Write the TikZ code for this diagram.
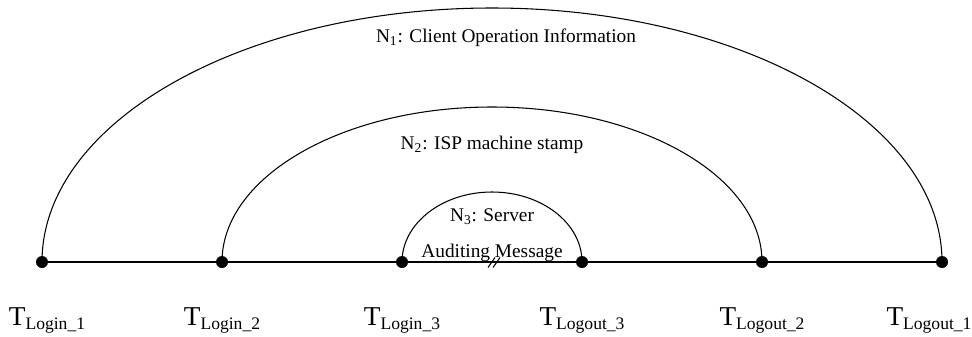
\documentclass[tikz,border=0pt]{standalone}
\usepackage{fontspec}
\setmainfont{Liberation Serif}
\usetikzlibrary{positioning,calc}

\tikzset{
    pt/.style={circle,fill=black,inner sep=0pt,minimum size=0.24cm},
    tlab/.style={inner sep=0pt,anchor=north},
    arclab/.style={inner sep=0pt,font=\fontsize{11}{13}\selectfont},
    span/.style={line width=0.6pt},
    axis line/.style={line width=1.1pt}
}
\newcommand{\tname}[1]{{\fontsize{15.5}{18}\selectfont T}\raisebox{-0.5ex}{\fontsize{10}{12}\selectfont #1}}

\begin{document}
\begin{tikzpicture}
    \useasboundingbox (0,0) rectangle (19.44,6.72);

    % Time points on the line
    \node[pt] (l1) at (0.84,1.48) {};
    \node[pt] (l2) at (4.44,1.48) {};
    \node[pt] (l3) at (8.04,1.48) {};
    \node[pt] (o3) at (11.64,1.48) {};
    \node[pt] (o2) at (15.24,1.48) {};
    \node[pt] (o1) at (18.84,1.48) {};

    % Time line with break mark
    \draw[axis line] (l1.center) -- (o1.center);
    \coordinate (brk) at ($(l3)!0.5!(o3)$);
    \draw[span] ($(brk)+(-0.08,-0.11)$) -- ($(brk)+(0.06,0.09)$);
    \draw[span] ($(brk)+(0.02,-0.11)$) -- ($(brk)+(0.16,0.09)$);

    % Nested intervals
    \draw[span] (l1.center) arc[start angle=180,end angle=0,x radius=9cm,y radius=5.08cm];
    \draw[span] (l2.center) arc[start angle=180,end angle=0,x radius=5.4cm,y radius=3.1cm];
    \draw[span] (l3.center) arc[start angle=180,end angle=0,x radius=1.8cm,y radius=1.4cm];

    % Interval labels
    \node[arclab] (n1) at (10.12,5.96) {N\textsubscript{1}: Client Operation Information};
    \node[arclab] (n2) at (9.84,3.82) {N\textsubscript{2}: ISP machine stamp};
    \node[arclab] (n3) at (9.84,2.38) {N\textsubscript{3}: Server};
    \node[arclab,anchor=base] (n3b) at (9.84,1.58) {Auditing Message};

    % Time labels
    \node[tlab,below=0.78cm of l1,xshift=0.1cm] (tl1) {\tname{Login\_1}};
    \node[tlab,below=0.78cm of l2] (tl2) {\tname{Login\_2}};
    \node[tlab,below=0.78cm of l3] (tl3) {\tname{Login\_3}};
    \node[tlab,below=0.78cm of o3] (to3) {\tname{Logout\_3}};
    \node[tlab,below=0.78cm of o2] (to2) {\tname{Logout\_2}};
    \node[tlab,below=0.78cm of o1,xshift=-0.26cm] (to1) {\tname{Logout\_1}};
\end{tikzpicture}
\end{document}
